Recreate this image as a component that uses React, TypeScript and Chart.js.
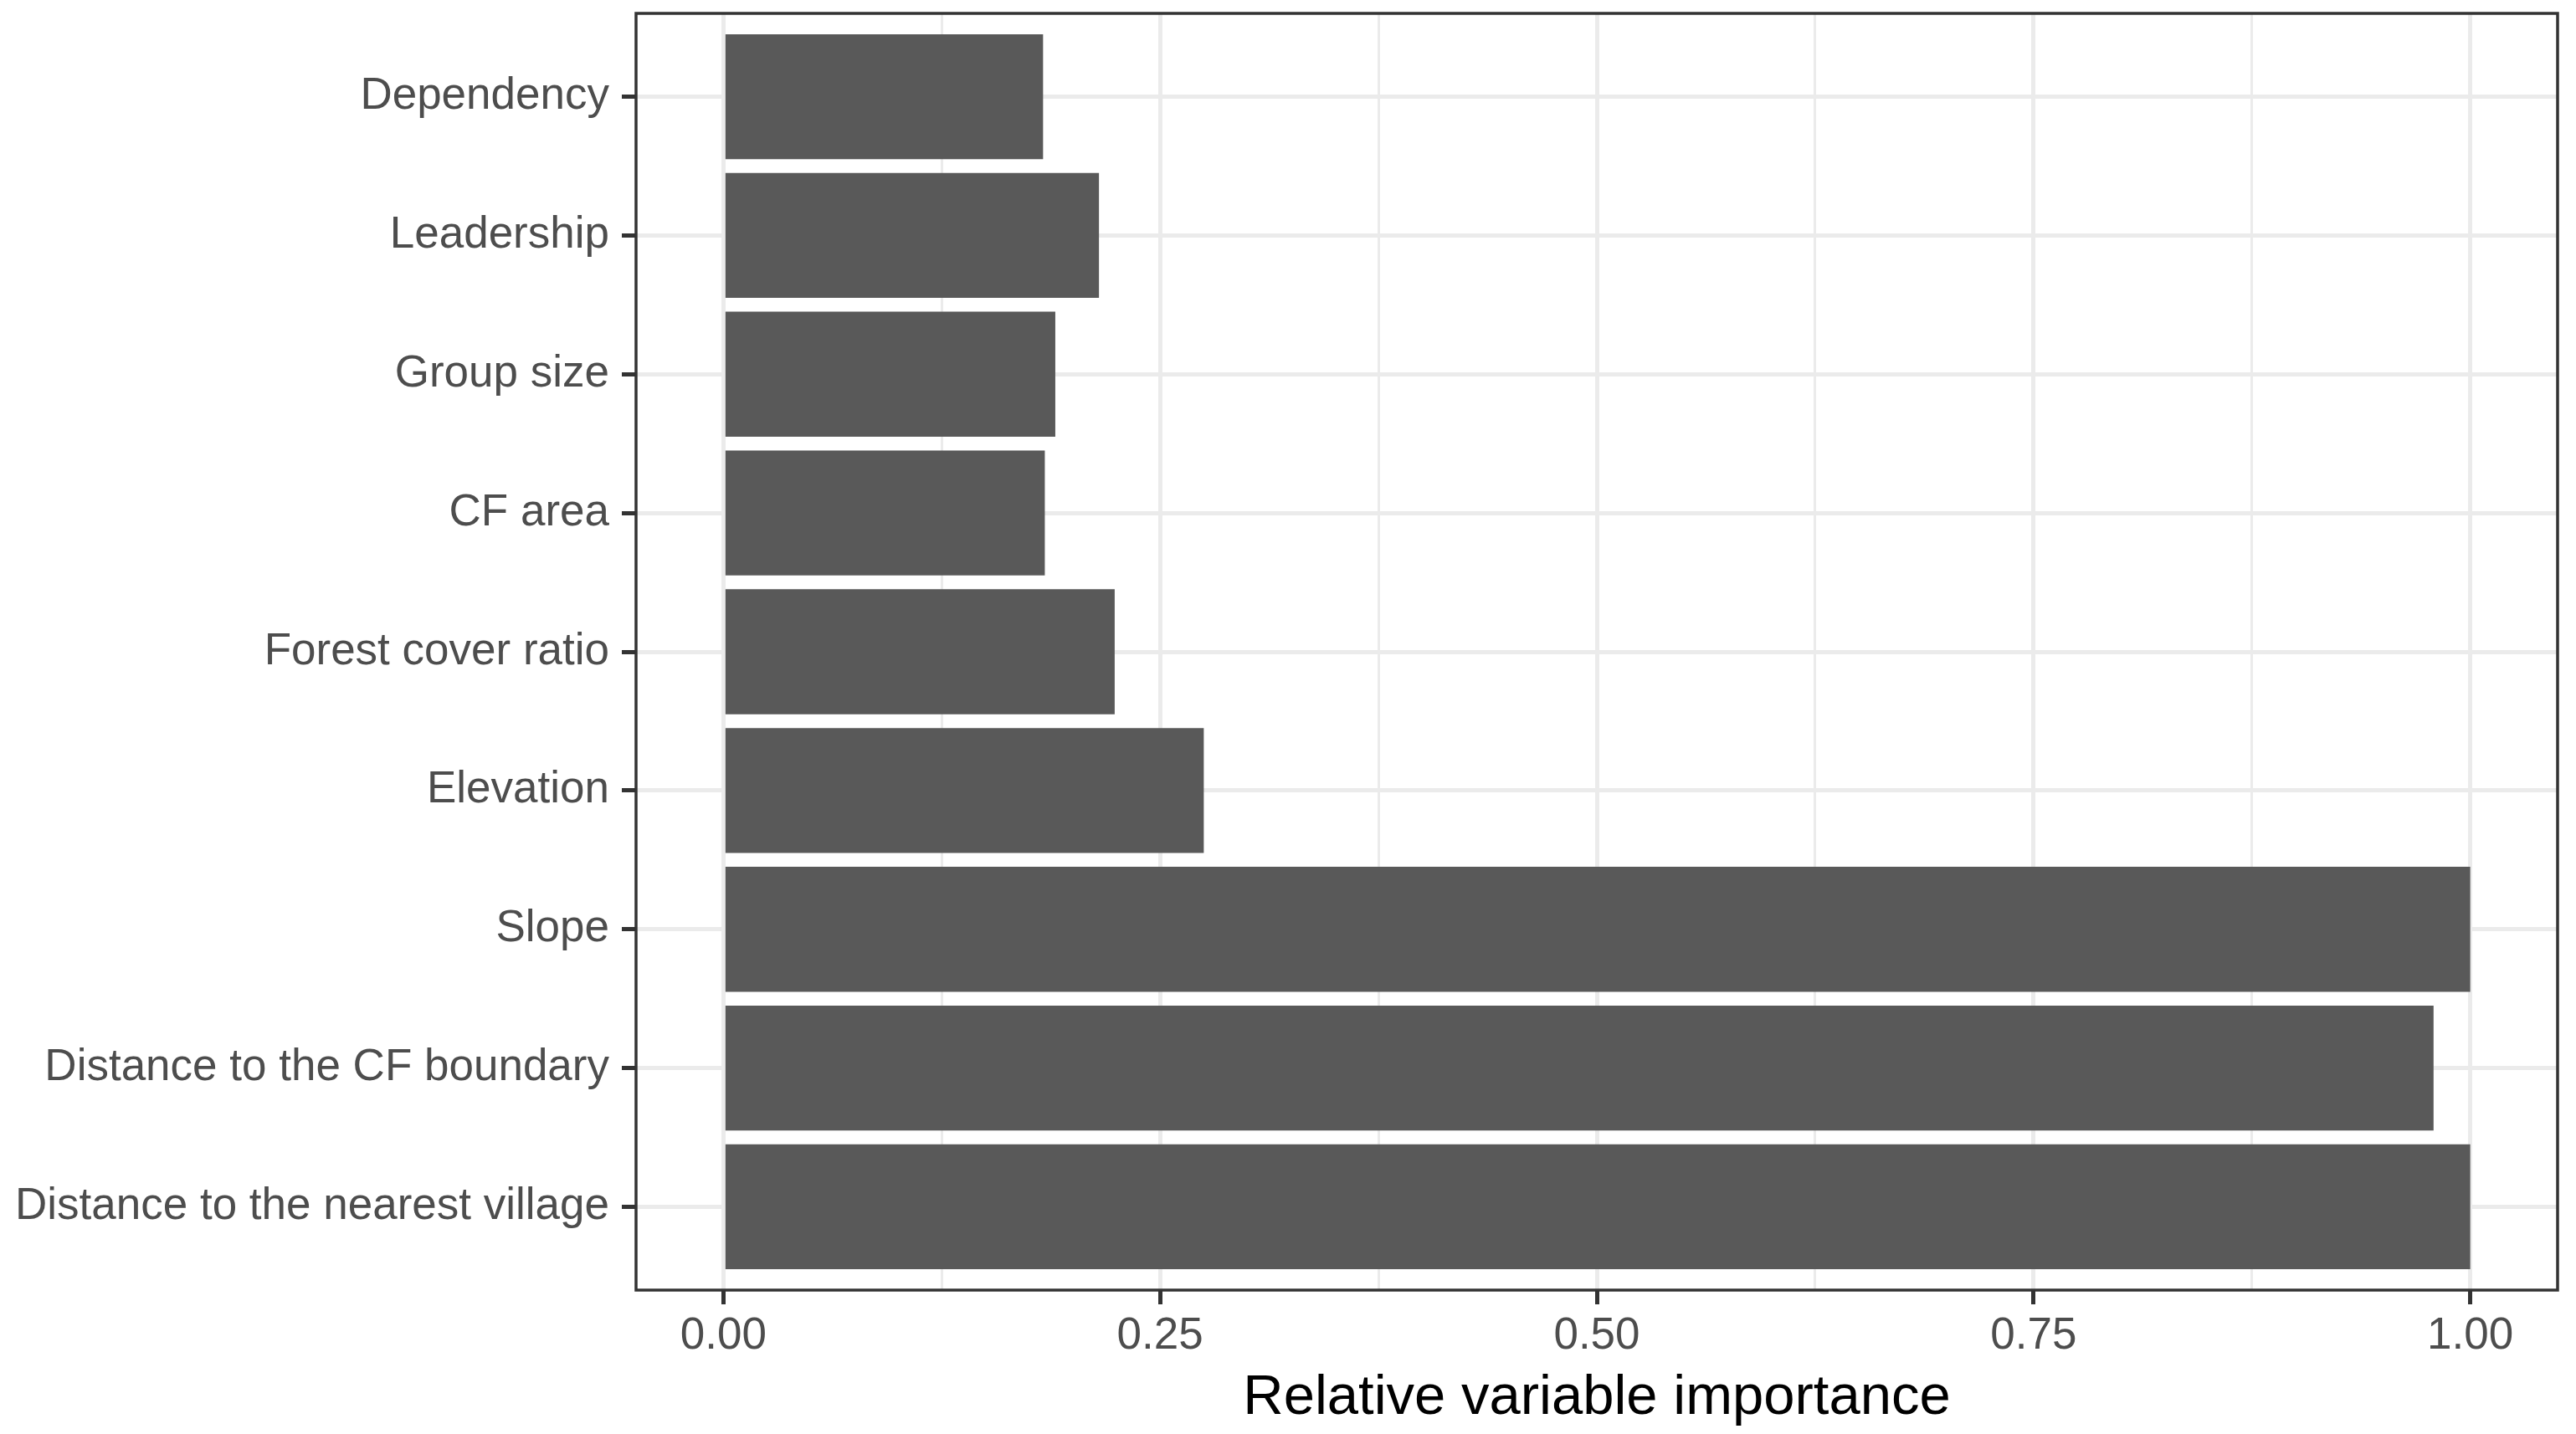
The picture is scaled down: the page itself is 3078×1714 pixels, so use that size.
import React, { useEffect, useRef } from 'react';
import { Chart, registerables } from 'chart.js';

Chart.register(...registerables);

const categories = [
  'Dependency',
  'Leadership',
  'Group size',
  'CF area',
  'Forest cover ratio',
  'Elevation',
  'Slope',
  'Distance to the CF boundary',
  'Distance to the nearest village',
];
const importance = [0.183, 0.215, 0.19, 0.184, 0.224, 0.275, 1.0, 0.979, 1.0];
const xMajorTicks = [0, 0.25, 0.5, 0.75, 1.0];
const xMinorTicks = [0.125, 0.375, 0.625, 0.875];
const xTitle = 'Relative variable importance';

const W = 3078;
const H = 1714;
const FONT = "'Liberation Sans', Arial, sans-serif";

const isMajor = (v: number) => xMajorTicks.some((m) => Math.abs(m - v) < 1e-9);

const panelBorder = {
  id: 'panelBorder',
  afterDatasetsDraw(chart: any) {
    const { ctx, chartArea } = chart;
    const { left, top, right, bottom } = chartArea;
    ctx.save();
    ctx.strokeStyle = '#333333';
    ctx.lineWidth = 3.5;
    ctx.strokeRect(left, top, right - left, bottom - top);
    ctx.restore();
  },
};

export default function App() {
  const ref = useRef<HTMLCanvasElement | null>(null);

  useEffect(() => {
    if (!ref.current) return;
    const chart = new Chart(ref.current, {
      type: 'bar',
      data: {
        datasets: [
          {
            data: categories.map((c, i) => ({ x: importance[i], y: i })),
            backgroundColor: '#595959',
            borderWidth: 0,
            barPercentage: 0.9,
            categoryPercentage: 1,
          },
        ],
      },
      options: {
        indexAxis: 'y',
        animation: false,
        responsive: false,
        maintainAspectRatio: false,
        layout: { padding: { left: 0, right: 22, top: 16, bottom: 0 } },
        plugins: { legend: { display: false }, tooltip: { enabled: false } },
        scales: {
          x: {
            type: 'linear',
            position: 'bottom',
            min: -0.05,
            max: 1.05,
            offset: false,
            afterBuildTicks: (s: any) => {
              s.ticks = [...xMinorTicks, ...xMajorTicks]
                .sort((a, b) => a - b)
                .map((v) => ({ value: v }));
            },
            afterFit: (s: any) => {
              s.height = 172;
              s.paddingLeft = 0;
              s.paddingRight = 0;
            },
            ticks: {
              autoSkip: false,
              maxRotation: 0,
              padding: 7,
              color: '#4D4D4D',
              font: { family: FONT, size: 53 },
              callback: (v: any) => (isMajor(Number(v)) ? Number(v).toFixed(2) : ''),
            },
            grid: {
              offset: false,
              color: '#EBEBEB',
              lineWidth: (ctx: any) => (ctx.tick && isMajor(ctx.tick.value) ? 5 : 3),
              drawTicks: true,
              tickLength: 17,
              tickWidth: 5,
              tickColor: (ctx: any) =>
                ctx.tick && isMajor(ctx.tick.value) ? '#333333' : 'rgba(0,0,0,0)',
            },
            border: { display: false },
            title: {
              display: true,
              text: xTitle,
              color: '#000000',
              font: { family: FONT, size: 67 },
              padding: { top: 0, bottom: 2 },
            },
          },
          y: {
            type: 'linear',
            min: -0.6,
            max: 8.6,
            reverse: true,
            offset: false,
            afterBuildTicks: (s: any) => {
              s.ticks = categories.map((_, i) => ({ value: i }));
            },
            afterFit: (s: any) => {
              s.width = 760;
              s.paddingTop = 0;
              s.paddingBottom = 0;
            },
            ticks: {
              autoSkip: false,
              padding: 15,
              color: '#4D4D4D',
              font: { family: FONT, size: 53 },
              callback: (v: any) => categories[Math.round(Number(v))] ?? '',
            },
            grid: {
              offset: false,
              color: '#EBEBEB',
              lineWidth: 5,
              drawTicks: true,
              tickLength: 17,
              tickWidth: 5,
              tickColor: '#333333',
            },
            border: { display: false },
          },
        },
      } as any,
      plugins: [panelBorder],
    });
    return () => chart.destroy();
  }, []);

  return (
    <canvas
      ref={ref}
      width={W}
      height={H}
      style={{ position: 'fixed', left: 0, top: 0, width: W, height: H, background: '#ffffff' }}
    />
  );
}
